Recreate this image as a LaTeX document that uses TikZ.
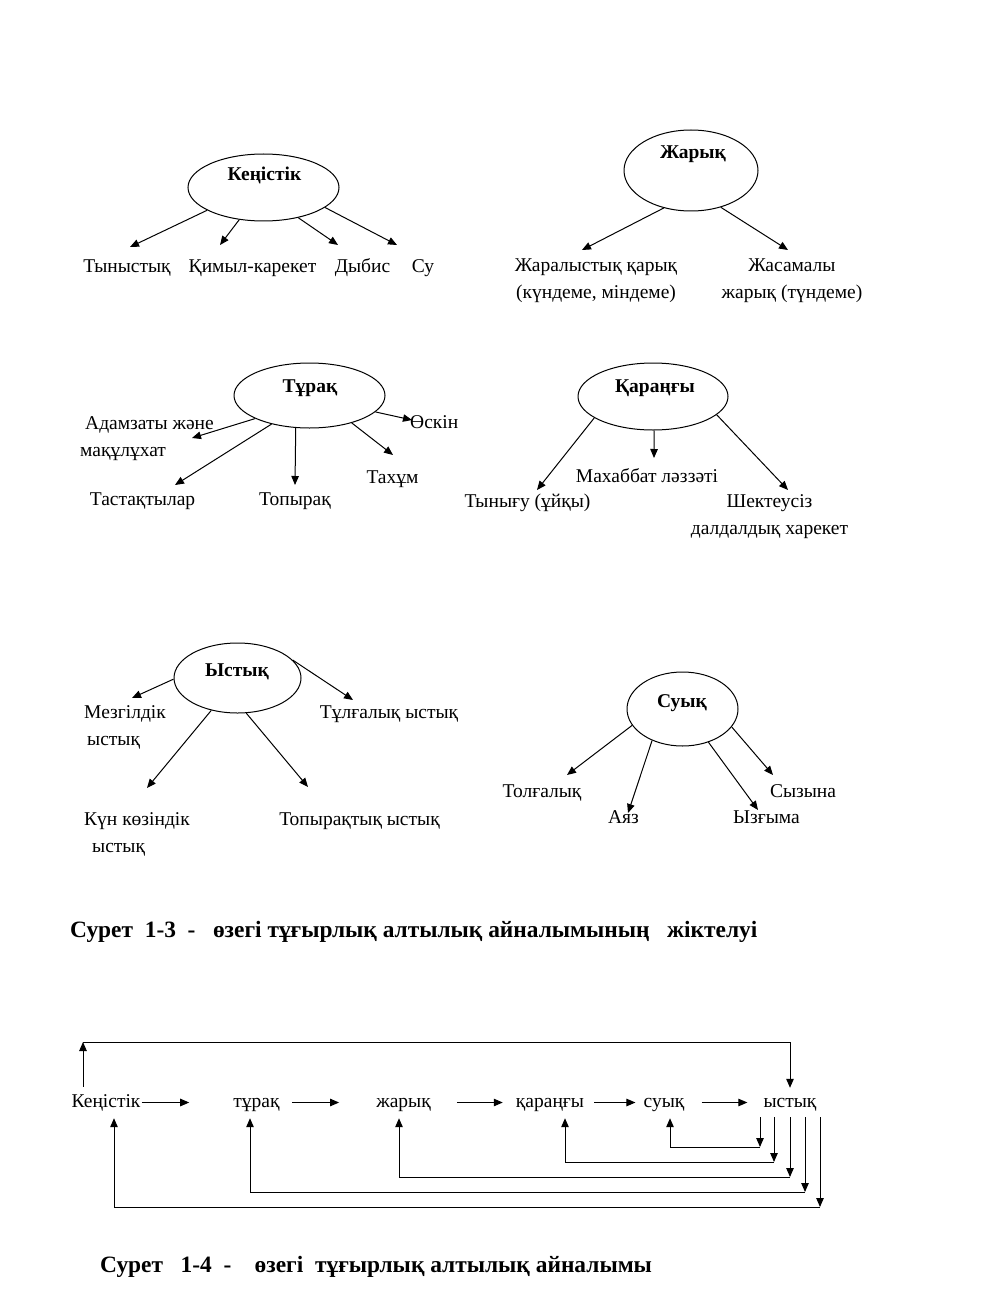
\documentclass[tikz,border=0pt]{standalone}
\usepackage{fontspec}
\setmainfont{Liberation Serif}
\usetikzlibrary{arrows.meta, shapes.geometric, calc}

\newcommand{\bodyfont}{\fontsize{19.5}{27}\selectfont}
\newcommand{\capfont}{\fontsize{23.4}{28}\selectfont\bfseries}
\newcommand{\twoline}[3][c]{\begin{tabular}[t]{@{}#1@{}}#2\\#3\end{tabular}}

\begin{document}
\begin{tikzpicture}[x=1pt, y=-1pt, font=\bodyfont,
  bubble/.style={draw, ellipse, inner sep=0pt, line width=1pt},
  head/.style={font=\bodyfont\bfseries, anchor=base, inner sep=0pt},
  item/.style={anchor=base, inner sep=0pt},
  flow/.style={anchor=base, inner sep=0pt, text height=13pt, text depth=4pt},
  figcap/.style={font=\capfont, anchor=base west, inner sep=0pt},
  arr/.style={-{Triangle[length=9pt,width=7.5pt]}, line width=1pt}]
\useasboundingbox (0,0) rectangle (991,1297);

% Кеңістік
\node[bubble, minimum width=151pt, minimum height=67pt] (ken) at (263.5,187.5) {};
\node[head] (kenT) at (264.5,181) {Кеңістік};
\node[item] (tyn) at (127,272) {Тыныстық};
\node[item] (kim) at (252.5,272) {Қимыл-карекет};
\node[item] (dyb) at (362.5,272) {Дыбис};
\node[item] (su) at (423,272) {Су};
\draw[arr] (ken.202) -- ([shift={(3,-25)}]tyn.base);
\draw[arr] (ken.233) -- ([shift={(-32.5,-27)}]kim.base);
\draw[arr] (ken.319) -- ([shift={(-24.5,-27)}]dyb.base);
\draw[arr] (ken.342) -- ([shift={(-26,-27)}]su.base);

% Жарық
\node[bubble, minimum width=134pt, minimum height=81pt] (zhar) at (691,170.5) {};
\node[head] (zharT) at (693,159) {Жарық};
\node[item] (jar) at (596,271) {\twoline{Жаралыстық қарық}{(күндеме, міндеме)}};
\node[item] (jas) at (792,271) {\twoline{Жасамалы}{жарық (түндеме)}};
\draw[arr] (zhar.234) -- ([shift={(-14,-21)}]jar.base);
\draw[arr] (zhar.309) -- ([shift={(-4,-21)}]jas.base);

% Тұрақ
\node[bubble, minimum width=151pt, minimum height=65pt] (tur) at (309.5,395.5) {};
\node[head] (turT) at (310,392) {Тұрақ};
\node[item, anchor=base west] (adam) at (80,429) {\twoline[l]{\hspace*{5pt}Адамзаты және}{мақұлұхат}};
\node[item, anchor=base west] (osk) at (410,428) {Өскін};
\node[item] (tax) at (392.5,483) {Тахұм};
\node[item] (tas) at (142.5,505) {Тастақтылар};
\node[item] (topy) at (295,505) {Топырақ};
\draw[arr] (tur.203) -- ([shift={(112,9)}]adam.base west);
\draw[arr] (tur.346) -- ([shift={(2,-8)}]osk.base west);
\draw[arr] (tur.327) -- ([shift={(0.5,-28)}]tax.base);
\draw[arr] (tur.247) -- ([shift={(0,-20)}]topy.base);
\draw[arr] (tur.217) -- ([shift={(32.5,-20)}]tas.base);

% Қараңғы
\node[bubble, minimum width=150pt, minimum height=67pt] (kar) at (653,396.5) {};
\node[head] (karT) at (655,392) {Қараңғы};
\node[item] (tyng) at (527.5,507) {Тынығу (ұйқы)};
\node[item] (mah) at (647,482) {Махаббат ләззәті};
\node[item] (shek) at (769.5,507) {\twoline{Шектеусіз}{далдалдық харекет}};
\draw[arr] (kar.200) -- ([shift={(9.5,-17)}]tyng.base);
\draw[arr] (kar.272) -- ([shift={(7,-24)}]mah.base);
\draw[arr] (kar.344) -- ([shift={(18.5,-17)}]shek.base);

% Ыстық
\node[bubble, minimum width=127pt, minimum height=70pt] (yst) at (237.5,678) {};
\node[head] (ystT) at (237,676) {Ыстық};
\node[item, anchor=base west] (mez) at (84,718) {\twoline[l]{Мезгілдік}{\hspace*{3pt}ыстық}};
\node[item] (tul) at (389,718) {Тұлғалық ыстық};
\node[item, anchor=base west] (kun) at (84,825) {\twoline[l]{Күн көзіндік}{\hspace*{8pt}ыстық}};
\node[item] (topy2) at (359.5,825) {Топырақтық ыстық};
\draw[arr] (yst.181) -- ([shift={(48,-20)}]mez.base west);
\draw[arr] (yst.18) -- ([shift={(-36,-18)}]tul.base);
\draw[arr] (yst.231) -- ([shift={(63,-37)}]kun.base west);
\draw[arr] (yst.284) -- ([shift={(-51.5,-38)}]topy2.base);

% Суық
\node[bubble, minimum width=111pt, minimum height=74pt] (suy) at (682.5,709) {};
\node[head] (suyT) at (682,707) {Суық};
\node[item] (tol) at (542,797) {Толғалық};
\node[item] (ayaz) at (623.5,823) {Аяз};
\node[item] (yzg) at (766.5,823) {Ызғыма};
\node[item] (syz) at (803,797) {Сызына};
\draw[arr] (suy.198) -- ([shift={(25,-22)}]tol.base);
\draw[arr] (suy.226) -- ([shift={(4.5,-10)}]ayaz.base);
\draw[arr] (suy.308) -- ([shift={(-8.5,-13)}]yzg.base);
\draw[arr] (suy.340) -- ([shift={(-30,-22)}]syz.base);

\node[figcap] (cap1) at (70,937) {Сурет\ \ 1-3\ \ -\ \ \ өзегі тұғырлық алтылық айналымының\ \ \ жіктелуі};

% The cycle
\node[flow] (c1) at (106,1107) {Кеңістік};
\node[flow] (c2) at (256.5,1107) {тұрақ};
\node[flow] (c3) at (403.5,1107) {жарық};
\node[flow] (c4) at (550,1107) {қараңғы};
\node[flow] (c5) at (664,1107) {суық};
\node[flow] (c6) at (790,1107) {ыстық};
\draw[arr] ([xshift=1pt]c1.east) -- ([xshift=-44pt]c2.west);
\draw[arr] ([xshift=12pt]c2.east) -- ([xshift=-37pt]c3.west);
\draw[arr] ([xshift=26pt]c3.east) -- ([xshift=-13pt]c4.west);
\draw[arr] ([xshift=10pt]c4.east) -- ([xshift=-8pt]c5.west);
\draw[arr] ([xshift=17pt]c5.east) -- ([xshift=-16pt]c6.west);

% loop over the top
\coordinate (loopL) at (83,1042);
\draw[arr] ([yshift=7pt]loopL |- c1.north) -- (loopL);
\draw[arr] (loopL) -| ([yshift=6pt]c6.north);

% returns from ыстық
\coordinate (b1) at (760,1147);
\coordinate (b2) at (774,1162);
\coordinate (b3) at (790,1177);
\coordinate (b4) at (805,1192);
\coordinate (b5) at (820,1207);
\draw[arr] ([yshift=-6pt]b1 |- c6.south) -- (b1);
\draw[arr] (b1) -| ([xshift=6pt, yshift=-7pt]c5.south);
\draw[arr] ([yshift=-6pt]b2 |- c6.south) -- (b2);
\draw[arr] (b2) -| ([xshift=15pt, yshift=-7pt]c4.south);
\draw[arr] ([yshift=-6pt]b3 |- c6.south) -- (b3);
\draw[arr] (b3) -| ([xshift=-4.5pt, yshift=-7pt]c3.south);
\draw[arr] ([yshift=-6pt]b4 |- c6.south) -- (b4);
\draw[arr] (b4) -| ([xshift=-6.5pt, yshift=-7pt]c2.south);
\draw[arr] ([yshift=-6pt]b5 |- c6.south) -- (b5);
\draw[arr] (b5) -| ([xshift=8pt, yshift=-7pt]c1.south);

\node[figcap] (cap2) at (100,1272) {Сурет\ \ \ 1-4\ \ -\ \ \ \ өзегі\ \ тұғырлық алтылық айналымы};
\end{tikzpicture}
\end{document}
